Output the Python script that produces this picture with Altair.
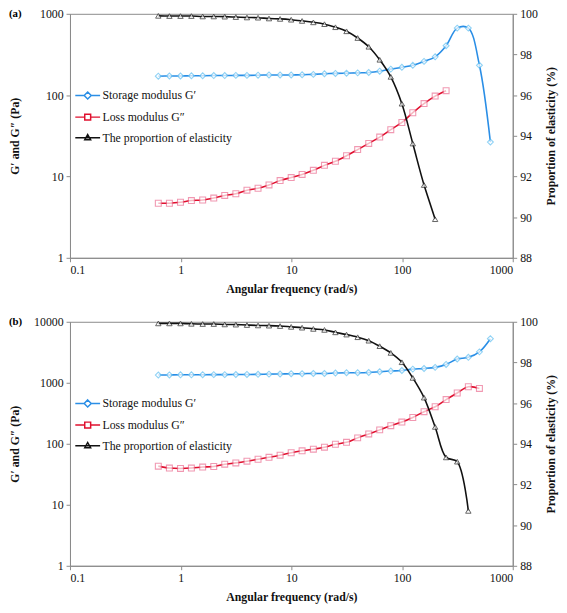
import altair as alt
import pandas as pd

# Angular frequency (rad/s), 10 points per decade
FREQ = [0.628, 0.791, 0.996, 1.25, 1.58, 1.99, 2.50, 3.15, 3.97, 5.00,
        6.28, 7.91, 9.96, 12.5, 15.8, 19.9, 25.0, 31.5, 39.7, 50.0,
        62.8, 79.1, 99.6, 125, 158, 199, 250, 315, 397, 500, 628]

SERIES = ["Storage modulus G′", "Loss modulus G″", "The proportion of elasticity"]
LINE_COLORS = ["#2a8ee6", "#e0102e", "#111111"]
MARKER_COLORS = ["#62c0f2", "#ec6f92", "#222222"]
SHAPES = ["diamond", "square", "triangle-up"]

# Panel (a)
GP_A = [171, 172, 172, 173, 173, 174, 174, 175, 175, 176, 177, 177, 177, 178, 180, 183,
        185, 186, 188, 190, 197, 209, 220, 233, 260, 296, 405, 667, 667, 233, 26.5]
GPP_A = [4.69, 4.69, 4.82, 5.06, 5.14, 5.43, 5.85, 6.13, 6.78, 7.16, 7.87, 8.9, 9.7, 10.6,
         11.9, 13.7, 15.4, 18.0, 21.4, 25.5, 30.5, 37.6, 46.1, 60.8, 78.7, 97.3, 113.5]
PROP_A = [99.90, 99.89, 99.89, 99.89, 99.87, 99.87, 99.86, 99.84, 99.82, 99.81, 99.77,
          99.75, 99.71, 99.65, 99.58, 99.49, 99.34, 99.14, 98.81, 98.38, 97.74, 96.90,
          95.58, 93.62, 91.58, 89.90]

# Panel (b)
GP_B = [1340, 1345, 1350, 1350, 1355, 1360, 1360, 1365, 1370, 1375, 1385, 1393, 1408, 1408,
        1422, 1422, 1444, 1462, 1462, 1477, 1516, 1556, 1592, 1675, 1715, 1790, 2000, 2453,
        2612, 3213, 5272]
GPP_B = [43, 40, 39.4, 40, 41.5, 42.4, 46.3, 48.6, 51.8, 55.8, 60, 65, 71.2, 76.6, 81.6,
         87.9, 98.2, 105.7, 125, 145, 169, 198, 227, 270, 336, 405, 530, 680, 860, 809]
PROP_B = [99.92, 99.92, 99.92, 99.90, 99.89, 99.89, 99.87, 99.86, 99.84, 99.82, 99.81,
          99.79, 99.75, 99.71, 99.65, 99.60, 99.48, 99.37, 99.24, 99.07, 98.80, 98.47,
          98.01, 97.24, 96.27, 94.83, 93.33, 93.12, 90.70]

X_TICKS = [0.1, 1, 10, 100, 1000]
R_TICKS = [88, 90, 92, 94, 96, 98, 100]

FONT = "Liberation Serif"
W, H = 450, 248

# legend symbols: a short line with the marker in its middle
LEG_PATHS = [
    "M-2.1,0H-0.6M0.6,0H2.1M0,-0.6L0.6,0L0,0.6L-0.6,0Z",
    "M-2.1,0H-0.5M0.5,0H2.1M-0.5,-0.5H0.5V0.5H-0.5Z",
    "M-2.1,0H2.1M0,-0.55L0.5,0.35L-0.5,0.35Z",
]


def mod_frame(gp, gpp):
    rows = []
    for f, v in zip(FREQ, gp):
        rows.append({"f": f, "v": v, "s": SERIES[0]})
    for f, v in zip(FREQ, gpp):
        rows.append({"f": f, "v": v, "s": SERIES[1]})
    return pd.DataFrame(rows)


def prop_frame(prop):
    return pd.DataFrame({"f": FREQ[:len(prop)], "p": prop, "s": SERIES[2]})


def panel(gp, gpp, prop, ymax, left_ticks, label):
    x = alt.X("f:Q", scale=alt.Scale(type="log", domain=[0.1, 1000]),
              axis=alt.Axis(values=X_TICKS, format="~g", title="Angular frequency (rad/s)",
                            titlePadding=8))
    yl = alt.Y("v:Q", scale=alt.Scale(type="log", domain=[1, ymax]),
               axis=alt.Axis(values=left_ticks, format="d", title="G′ and G″ (Pa)",
                             titleX=-56, titleY=H / 2, titleBaseline="middle"))
    yr = alt.Y("p:Q", scale=alt.Scale(domain=[88, 100]),
               axis=alt.Axis(orient="right", values=R_TICKS, format="d",
                             title="Proportion of elasticity (%)", titleAngle=270,
                             titleX=38, titleY=H / 2, titleBaseline="middle"))
    color = alt.Color("s:N", scale=alt.Scale(domain=SERIES, range=LINE_COLORS), legend=None)
    stroke = alt.Stroke("s:N", scale=alt.Scale(domain=SERIES, range=MARKER_COLORS), legend=None)
    shape = alt.Shape("s:N", scale=alt.Scale(domain=SERIES, range=SHAPES), legend=None)

    leg = alt.Legend(orient="none", legendX=11, legendY=76, title=None,
                     symbolSize=144, symbolStrokeWidth=1.5, symbolOpacity=1,
                     symbolFillColor="white", rowPadding=8,
                     labelOffset=8, labelFont=FONT, labelFontSize=12, labelColor="#111")

    dm = mod_frame(gp, gpp)
    dp = prop_frame(prop)
    l1 = alt.Chart(dm).mark_line(interpolate="catmull-rom", strokeWidth=1.6).encode(x=x, y=yl, color=color)
    p1 = alt.Chart(dm).mark_point(filled=True, fill="white", size=36, strokeWidth=1.1).encode(
        x=x, y=yl, stroke=stroke, shape=shape)
    l2 = alt.Chart(dp).mark_line(interpolate="catmull-rom", strokeWidth=1.6).encode(x=x, y=yr, color=color)
    p2 = alt.Chart(dp).mark_point(filled=True, fill="white", size=30, strokeWidth=1.0).encode(
        x=x, y=yr, stroke=stroke, shape=shape)
    # invisible layer that only carries the legend (line + marker symbols)
    lg = alt.Chart(dm).mark_point(opacity=0, filled=False).encode(
        x=x,
        shape=alt.Shape("s:N", scale=alt.Scale(domain=SERIES, range=LEG_PATHS), legend=leg),
        stroke=alt.Stroke("s:N", scale=alt.Scale(domain=SERIES, range=LINE_COLORS), legend=leg),
    )
    left = alt.layer(l1, p1)
    right = alt.layer(l2, p2)
    return alt.layer(left, right, lg).resolve_scale(
        y="independent", shape="independent", stroke="independent"
    ).properties(
        width=W, height=H,
        title=alt.TitleParams(label, anchor="start", frame="bounds", font=FONT,
                              fontSize=11, fontWeight="bold", offset=-11))


pa = panel(GP_A, GPP_A, PROP_A, 1000, [1, 10, 100, 1000], "(a)")
pb = panel(GP_B, GPP_B, PROP_B, 10000, [1, 10, 100, 1000, 10000], "(b)")

chart = alt.vconcat(pa, pb, spacing=20).resolve_scale(
    color="independent", stroke="independent", shape="independent"
).resolve_legend(color="independent", stroke="independent", shape="independent").properties(
    padding={"left": 0, "top": -6, "right": 2, "bottom": 0}
).configure_view(stroke="#8a8a8a", strokeWidth=1).configure_axis(
    labelFont=FONT, labelFontSize=12, labelColor="#111", titleFont=FONT, titleFontSize=12,
    titleFontWeight="bold", titleColor="#111", domainColor="#8a8a8a", tickColor="#8a8a8a",
    tickSize=4, grid=False, labelPadding=3
).configure_title(font=FONT)

chart.save("out.html", embed_options={"renderer": "svg", "actions": False})
